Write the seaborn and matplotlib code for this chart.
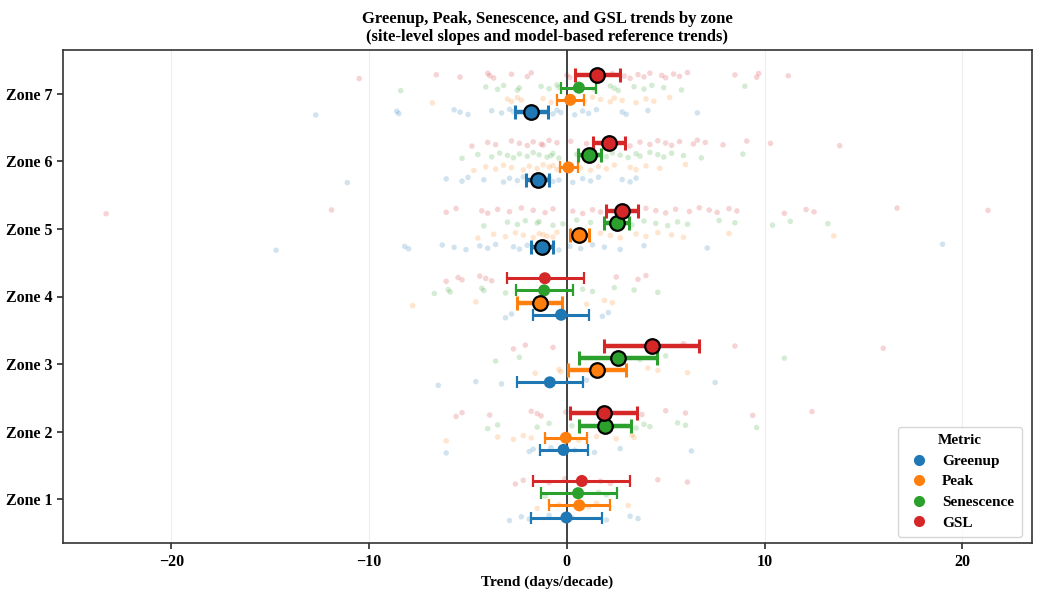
import numpy as np
import pandas as pd
import matplotlib
matplotlib.use("Agg")
import matplotlib.pyplot as plt
from matplotlib.lines import Line2D
import seaborn as sns

zones = ["Zone 1", "Zone 2", "Zone 3", "Zone 4", "Zone 5", "Zone 6", "Zone 7"]
metrics = ["Greenup", "Peak", "Senescence", "GSL"]
colors = ["#1f77b4", "#ff7f0e", "#2ca02c", "#d62728"]

# model-based reference trends (mean, lower, upper, significant) per zone, per metric
greenup_mean = [-0.02, -0.17, -0.86, -0.29, -1.25, -1.47, -1.79]
greenup_lo   = [-1.82, -1.38, -2.52, -1.70, -1.82, -2.04, -2.60]
greenup_hi   = [1.76, 1.06, 0.81, 1.13, -0.69, -0.90, -0.96]
greenup_sig  = [False, False, False, False, True, True, True]

peak_mean = [0.63, -0.05, 1.52, -1.37, 0.63, 0.08, 0.17]
peak_lo   = [-0.90, -1.08, 0.07, -2.53, 0.15, -0.35, -0.52]
peak_hi   = [2.16, 1.00, 2.99, -0.25, 1.11, 0.57, 0.86]
peak_sig  = [False, False, True, True, True, False, False]

sen_mean = [0.57, 1.94, 2.60, -1.15, 2.53, 1.13, 0.61]
sen_lo   = [-1.33, 0.61, 0.63, -2.58, 1.87, 0.57, -0.27]
sen_hi   = [2.52, 3.24, 4.57, 0.32, 3.12, 1.72, 1.50]
sen_sig  = [False, True, True, False, True, True, False]

gsl_mean = [0.76, 1.87, 4.32, -1.11, 2.80, 2.14, 1.55]
gsl_lo   = [-1.70, 0.15, 1.87, -3.05, 2.00, 1.33, 0.40]
gsl_hi   = [3.20, 3.56, 6.70, 0.86, 3.58, 2.94, 2.70]
gsl_sig  = [False, True, True, False, True, True, True]

# site-level slopes (days/decade), per zone (1..7)
greenup_sites = [
    [-2.9, -2.3, -1.9, -0.9, 0.25, 2.0, 3.2, 3.6],
    [-6.1, -1.7, -1.9, -0.8, 0.4, 1.4, 2.7, 6.3],
    [-6.5, -4.6, -3.3, 1.0, 7.5],
    [-3.1, -2.8, 1.8, 2.1],
    [-14.7, -8.2, -8.0, -6.3, -5.7, -5.1, -4.4, -4.0, -3.6, -2.7, -2.4, -2.0, -1.0, -0.4, 0.15, 0.7, 1.3, 1.9, 2.7, 3.9, 7.1, 19.0],
    [-11.1, -6.1, -5.3, -5.0, -4.2, -3.2, -2.9, -2.5, -2.2, -1.0, -0.7, -0.9, -0.4, 0.3, 0.8, 1.2, 1.6, 2.8, 3.2, 3.5],
    [-12.7, -8.6, -8.5, -5.7, -5.4, -5.0, -3.8, -3.3, -2.9, -2.7, -0.7, -0.5, -0.3, 0.4, 0.8, 1.1, 1.5, 2.8, 3.0, 4.1, 6.6],
]
peak_sites = [
    [-1.5, -0.4, 1.1, 1.5, 3.1],
    [-6.1, -3.5, -2.7, -2.2, -1.8, 0.6, 1.5, 2.5, 3.3, 3.4],
    [-1.6, -0.4, -0.3, 4.1, 4.6, 6.1],
    [-7.8, -4.6, 1.0, 1.9, 2.3],
    [-4.5, -3.7, -3.1, -2.6, -2.2, -1.7, -1.4, -1.0, -0.5, -1.2, -0.7, 1.7, 2.2, 2.7, 3.5, 4.0, 4.6, 5.3, 5.9, 8.2, 13.5],
    [-4.7, -4.1, -3.6, -3.2, -2.8, -2.2, -1.9, -1.5, -1.2, -0.9, -0.5, -0.7, 0.7, 1.2, 1.6, 2.0, 2.4, 3.2, 3.5, 4.0, 4.7, 6.0],
    [-6.8, -3.0, -2.8, -2.5, -2.3, -0.8, -1.2, 0.9, 1.3, 1.7, 2.2, 2.4, 2.8, 3.5, 4.0, 4.4, 5.2],
]
sen_sites = [
    [-1.1, 1.6, 2.0],
    [-4.0, -3.5, -1.5, -0.9, 0.25, 3.5, 3.9, 4.2, 5.6, 6.0, 9.6],
    [-3.6, -2.4, 3.7, 5.0, 11.0],
    [-6.7, -6.0, -5.9, -4.3, -4.2, -3.1, 0.8, 1.3, 2.4, 3.4, 4.6],
    [-4.2, -3.0, -2.5, -2.1, -1.5, -0.7, -1.4, -0.2, 0.5, 1.2, 3.3, 3.9, 4.5, 5.1, 5.6, 6.1, 7.7, 8.5, 10.4, 11.3, 13.2],
    [-5.3, -4.5, -3.8, -3.4, -3.0, -2.7, -2.4, -2.0, -1.7, -1.4, -1.0, -0.7, -0.8, -0.4, 0.5, 2.0, 2.3, 2.7, 3.1, 3.5, 3.7, 4.2, 4.6, 4.9, 5.3, 5.9, 6.8, 8.9],
    [-8.4, -4.1, -3.5, -3.2, -2.4, -2.5, -1.3, -0.9, -0.5, -0.4, 1.4, 2.2, 2.4, 2.6, 3.4, 3.9, 4.3, 4.9, 5.8, 9.0],
]
gsl_sites = [
    [-2.6, -2.2, -0.9, -0.1, 1.7, 2.2, 4.6, 6.1],
    [-5.6, -5.3, -3.9, -1.8, -1.5, -1.3, -0.05, 3.8, 5.0, 6.0, 9.4, 12.4],
    [-2.7, -2.1, -0.7, 5.9, 8.5, 16.0],
    [-6.1, -5.5, -5.3, -4.4, -4.1, -3.8, 2.5, 3.6, 4.0],
    [-23.3, -11.9, -6.1, -5.6, -4.3, -4.0, -3.5, -2.9, -2.3, -1.7, -1.1, -0.7, 0.3, 0.8, 1.3, 1.7, 4.0, 4.5, 5.0, 5.5, 6.2, 6.7, 7.2, 7.6, 8.2, 8.6, 11.0, 12.1, 12.5, 16.7, 21.3],
    [-4.8, -4.0, -3.6, -2.8, -2.4, -2.0, -1.7, -1.3, -0.9, -0.5, -1.2, 0.2, 1.0, 3.2, 3.7, 4.2, 4.6, 5.0, 5.3, 5.7, 6.4, 6.6, 7.0, 7.9, 9.1, 10.3, 13.8],
    [-10.5, -6.6, -5.4, -4.0, -3.9, -3.7, -2.8, -2.0, -1.8, 0.0, 0.15, 2.3, 2.9, 3.2, 3.6, 3.9, 4.2, 4.8, 5.0, 5.4, 5.7, 6.1, 8.5, 9.6, 9.7, 11.2],
]

offsets = {"Greenup": -0.27, "Peak": -0.09, "Senescence": 0.09, "GSL": 0.27}
summary = {
    "Greenup": (greenup_mean, greenup_lo, greenup_hi, greenup_sig, greenup_sites),
    "Peak": (peak_mean, peak_lo, peak_hi, peak_sig, peak_sites),
    "Senescence": (sen_mean, sen_lo, sen_hi, sen_sig, sen_sites),
    "GSL": (gsl_mean, gsl_lo, gsl_hi, gsl_sig, gsl_sites),
}

sns.set_theme(style="whitegrid")
plt.rcParams["font.family"] = ["Liberation Serif", "DejaVu Serif"]
plt.rcParams["font.weight"] = "bold"
plt.rcParams["text.color"] = "black"
plt.rcParams["axes.labelcolor"] = "black"
plt.rcParams["xtick.color"] = "black"
plt.rcParams["ytick.color"] = "black"

fig = plt.figure(figsize=(10.43, 5.93), dpi=100)
ax = fig.add_axes([0.060, 0.084, 0.929, 0.832])

# site-level points
rows = []
for m in metrics:
    sites = summary[m][4]
    for zi, vals in enumerate(sites):
        for k, v in enumerate(vals):
            jit = (((k * 0.61803) % 1.0) - 0.5) * 0.09
            rows.append({"metric": m, "trend": v, "y": zi + 1 + offsets[m] + jit})
pts = pd.DataFrame(rows)
sns.scatterplot(data=pts, x="trend", y="y", hue="metric", hue_order=metrics,
                palette=colors, s=16, alpha=0.2, edgecolor="none", legend=False, ax=ax)

ax.axvline(0, color="#333333", lw=1.3, zorder=2)

# reference trends
for m, c in zip(metrics, colors):
    mean, lo, hi, sig, _ = summary[m]
    for zi in range(len(zones)):
        y = zi + 1 + offsets[m]
        xerr = [[mean[zi] - lo[zi]], [hi[zi] - mean[zi]]]
        if sig[zi]:
            ax.errorbar(mean[zi], y, xerr=xerr, fmt="none", ecolor=c, elinewidth=3.2,
                        capsize=5, capthick=2.2, zorder=3)
        else:
            ax.errorbar(mean[zi], y, xerr=xerr, fmt="none", ecolor=c, elinewidth=2.2,
                        capsize=4, capthick=1.6, zorder=3)
    df = pd.DataFrame({"trend": mean, "y": [zi + 1 + offsets[m] for zi in range(len(zones))], "sig": sig})
    ns = df[~df["sig"]]
    ss = df[df["sig"]]
    sns.scatterplot(data=ns, x="trend", y="y", color=c, s=75, edgecolor="none", ax=ax, zorder=4, legend=False)
    sns.scatterplot(data=ss, x="trend", y="y", color=c, s=110, edgecolor="black", linewidth=1.6, ax=ax, zorder=5, legend=False)

ax.set_xlim(-25.5, 23.5)
ax.set_ylim(0.35, 7.65)
ax.set_yticks(range(1, len(zones) + 1))
ax.set_yticklabels(zones, fontsize=11.5, fontweight="bold")
ax.set_xticks([-20, -10, 0, 10, 20])
ax.set_xticklabels(["\u221220", "\u221210", "0", "10", "20"], fontsize=11.5, fontweight="bold")
ax.tick_params(axis="both", length=4, color="#333333", bottom=True, left=True)
ax.grid(axis="y", visible=False)
ax.grid(axis="x", color="#eeeeee", lw=0.8)
for s in ax.spines.values():
    s.set_color("#333333")
    s.set_linewidth(1.2)
ax.set_xlabel("Trend (days/decade)", fontsize=11, fontweight="bold", labelpad=4)
ax.set_ylabel("")
ax.set_title("Greenup, Peak, Senescence, and GSL trends by zone\n(site-level slopes and model-based reference trends)",
             fontsize=12, fontweight="bold", pad=6)

handles = [Line2D([0], [0], marker="o", color="none", markerfacecolor=c, markeredgecolor="none",
                  markersize=8) for c in colors]
leg = ax.legend(handles, metrics, title="Metric", loc="lower right", frameon=True,
                prop={"weight": "bold", "size": 11}, title_fontproperties={"weight": "bold", "size": 11},
                borderpad=0.5, labelspacing=0.45, handletextpad=0.6, handlelength=1.8,
                borderaxespad=0, bbox_to_anchor=(0.99, 0.012))
leg.get_frame().set_edgecolor("#cccccc")

fig.savefig("out.png", dpi=100)
